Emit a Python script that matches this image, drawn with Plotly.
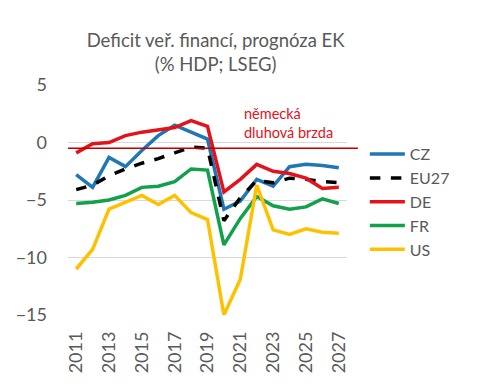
import plotly.graph_objects as go

years = list(range(2011, 2028))
cz = [-2.8, -3.9, -1.3, -2.1, -0.7, 0.6, 1.5, 0.9, 0.3, -5.8, -5.1, -3.2, -3.8, -2.1, -1.9, -2.0, -2.2]
eu27 = [-4.1, -3.7, -2.9, -2.3, -1.8, -1.4, -0.9, -0.4, -0.5, -6.8, -4.8, -3.3, -3.5, -3.1, -3.2, -3.4, -3.5]
de = [-0.9, -0.1, 0.0, 0.6, 0.9, 1.1, 1.3, 1.9, 1.4, -4.3, -3.2, -1.9, -2.5, -2.7, -3.1, -4.0, -3.9]
fr = [-5.3, -5.2, -5.0, -4.6, -3.9, -3.8, -3.4, -2.3, -2.4, -8.9, -6.6, -4.7, -5.5, -5.8, -5.6, -4.9, -5.3]
us = [-11.0, -9.3, -5.8, -5.2, -4.6, -5.4, -4.6, -6.1, -6.7, -15.0, -11.9, -3.7, -7.6, -8.0, -7.5, -7.8, -7.9]
brake_level = -0.5
tick_years = [2011, 2013, 2015, 2017, 2019, 2021, 2023, 2025, 2027]

series = [
    ("CZ", cz, "#1F77B4", "solid"),
    ("EU27", eu27, "#000000", "dash"),
    ("DE", de, "#E3121B", "solid"),
    ("FR", fr, "#12A04A", "solid"),
    ("US", us, "#FFC000", "solid"),
]

FONT = "Lato"
GRAY = "#595959"

fig = go.Figure()
for name, vals, color, dash in series:
    fig.add_trace(go.Scatter(
        x=years, y=vals, name=name, mode="lines",
        line=dict(color=color, width=3.5, dash=dash),
    ))

fig.add_shape(type="line", xref="paper", yref="y", x0=0, x1=1.039,
              y0=brake_level, y1=brake_level,
              line=dict(color="#C00000", width=1.3), layer="above")

fig.add_annotation(x=2021.1, y=1.7, xref="x", yref="y", xanchor="left", yanchor="middle",
                   text="německá<br>dluhová brzda", showarrow=False, align="left",
                   font=dict(family=FONT, size=14.5, color="#E3121B"))

fig.update_layout(
    width=474, height=380,
    margin=dict(l=60, r=135, t=77, b=73),
    paper_bgcolor="white", plot_bgcolor="white",
    font=dict(family=FONT, color=GRAY),
    title=dict(text="Deficit veř. financí, prognóza EK<br>(% HDP; LSEG)",
               x=0.438, xanchor="center", y=0.897, yanchor="top",
               font=dict(family=FONT, size=18.5, color=GRAY)),
    showlegend=True,
    legend=dict(x=1.064, y=0.773, xanchor="left", yanchor="top",
                font=dict(family=FONT, size=16, color=GRAY),
                itemwidth=35, tracegroupgap=0, bgcolor="rgba(0,0,0,0)"),
    xaxis=dict(range=[2010.5, 2027.5], tickvals=tick_years,
               ticktext=[str(y) for y in tick_years], tickangle=-90,
               tickfont=dict(family=FONT, size=18, color=GRAY),
               showgrid=False, zeroline=False, showline=False, ticks="",
               automargin=False),
    yaxis=dict(range=[-15, 5], tickvals=[5, 0, -5, -10, -15],
               tickfont=dict(family=FONT, size=18, color=GRAY),
               showgrid=True, gridcolor="#D9D9D9", gridwidth=1,
               zeroline=False, showline=False, ticks="", ticklen=0,
               automargin=False),
)
fig.update_yaxes(ticklabelstandoff=20)
fig.update_xaxes(ticklabelstandoff=12)

fig.write_html("out.html")
